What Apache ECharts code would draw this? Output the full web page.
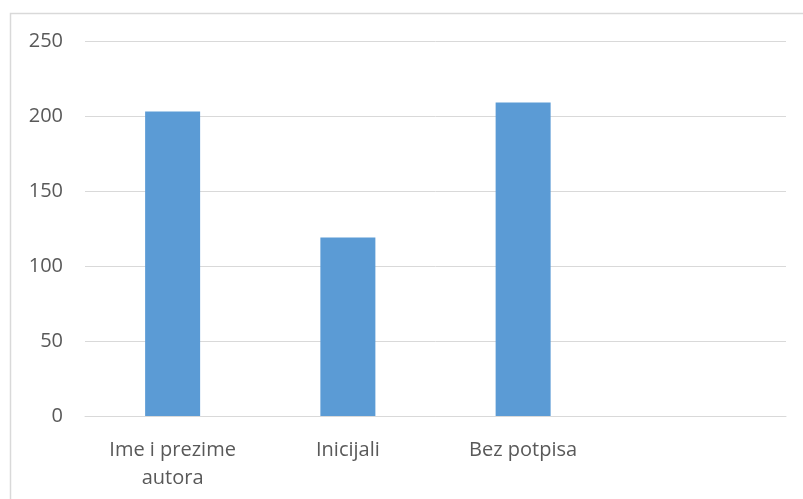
<!DOCTYPE html>
<html><head><meta charset="utf-8">
<script src="https://cdn.jsdelivr.net/npm/echarts@6/dist/echarts.min.js"></script>
<style>html,body{margin:0;padding:0;background:#fff}#c{width:803px;height:499px}</style>
</head><body><div id="c"></div>
<script>
const categories = ['Ime i prezime\nautora', 'Inicijali', 'Bez potpisa', ''];
const values = [203, 119, 209, null];
const yTicks = [0, 50, 100, 150, 200, 250];

const chart = echarts.init(document.getElementById('c'), null, {renderer: 'canvas'});
chart.setOption({
  animation: false,
  backgroundColor: '#fff',
  graphic: [{
    type: 'rect', left: 8, top: 11,
    shape: {width: 820, height: 520},
    style: {fill: 'none', stroke: '#d9d9d9', lineWidth: 1.5}, silent: true
  }],
  grid: {left: 85, right: 17, top: 41, bottom: 83, containLabel: false},
  xAxis: {
    type: 'category', data: categories,
    axisLine: {show: true, lineStyle: {color: '#d9d9d9', width: 1}},
    axisTick: {show: false},
    axisLabel: {color: '#595959', fontFamily: 'Open Sans', fontSize: 20, margin: 20, lineHeight: 28, interval: 0}
  },
  yAxis: {
    type: 'value', min: yTicks[0], max: yTicks[yTicks.length - 1], interval: 50,
    axisLine: {show: false}, axisTick: {show: false},
    splitLine: {lineStyle: {color: '#d9d9d9', width: 1}},
    axisLabel: {color: '#595959', fontFamily: 'Open Sans', fontSize: 20, margin: 22}
  },
  series: [{
    type: 'bar', data: values, barWidth: 55,
    itemStyle: {color: '#5B9BD5'}
  }]
});
</script></body></html>
